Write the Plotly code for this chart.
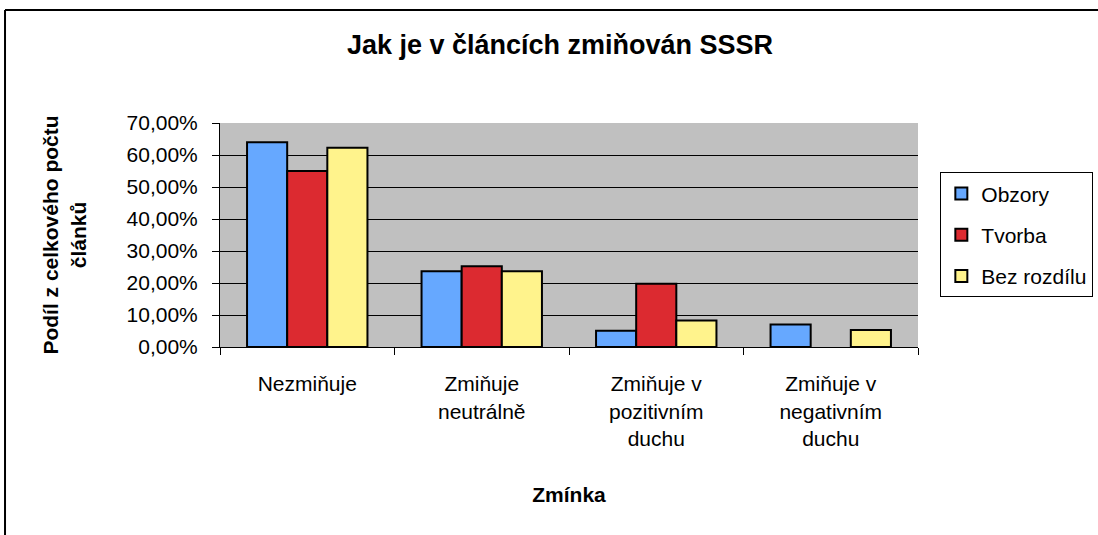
import plotly.graph_objects as go

categories = ["Nezmiňuje", "Zmiňuje<br>neutrálně", "Zmiňuje v<br>pozitivním<br>duchu", "Zmiňuje v<br>negativním<br>duchu"]
obzory = [0.640, 0.237, 0.051, 0.070]
tvorba = [0.550, 0.252, 0.198, 0.0]
bez_rozdilu = [0.623, 0.237, 0.083, 0.053]

series = [("Obzory", obzory, "#66A8FF"), ("Tvorba", tvorba, "#DC2A30"), ("Bez rozdílu", bez_rozdilu, "#FFF38C")]

fig = go.Figure()
for name, vals, col in series:
    widths = [2 if v > 0 else 0 for v in vals]
    fig.add_trace(go.Bar(x=categories, y=vals, name=name, legendgroup=name,
                         marker=dict(color=col, line=dict(color="black", width=widths))))

font = "Liberation Sans, Arial, sans-serif"
fig.update_layout(
    width=1098, height=535,
    margin=dict(l=220, r=180, t=123, b=188, autoexpand=False),
    paper_bgcolor="white", plot_bgcolor="#C0C0C0",
    separators=", ",
    bargap=0.31, bargroupgap=0,
    font=dict(family=font, size=21, color="black"),
    title=dict(text="<b>Jak je v článcích zmiňován SSSR</b>", x=0.51, xanchor="center",
               y=0.916, yanchor="middle", font=dict(size=27)),
    legend=dict(x=1.032, y=0.78, xanchor="left", yanchor="top", bgcolor="white",
                bordercolor="black", borderwidth=1, font=dict(size=21),
                tracegroupgap=11, itemsizing="constant"),
    showlegend=True,
)
fig.update_xaxes(showline=True, linecolor="black", linewidth=1, ticks="outside",
                 tickson="boundaries", ticklen=7, tickcolor="black", tickfont=dict(size=21),
                 ticklabelstandoff=18,
                 title=dict(text="<b>Zmínka</b>", font=dict(size=21), standoff=38))
fig.update_yaxes(range=[0, 0.7], dtick=0.1, tickformat=".2%", showline=True, linecolor="black",
                 ticks="outside", ticklen=7, tickcolor="black", showgrid=True, tickfont=dict(size=21),
                 ticklabelstandoff=10,
                 gridcolor="black", gridwidth=1, zeroline=False,
                 title=dict(text="<b>Podíl z celkového počtu<br>článků</b>", font=dict(size=21), standoff=34))
# outer frame lines (left and top) of the original chart area
fig.add_shape(type="line", xref="paper", yref="paper", x0=-0.308, x1=1.3, y0=1.504, y1=1.504,
              line=dict(color="black", width=2))
fig.add_shape(type="line", xref="paper", yref="paper", x0=-0.308, x1=-0.308, y0=1.504, y1=-0.84,
              line=dict(color="black", width=2))
fig.write_html("out.html", config={"displayModeBar": False},
               post_script="document.body.style.margin='0';")
